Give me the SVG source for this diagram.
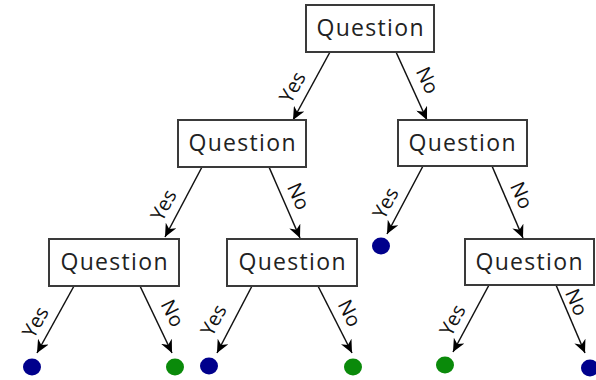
<svg xmlns="http://www.w3.org/2000/svg" width="596" height="380" viewBox="0 0 596 380">
<style>
.box{fill:#fff;stroke:#3a3a3a;stroke-width:2}
.q{font-family:"Open Sans","DejaVu Sans",sans-serif;font-size:23px;fill:#222;text-anchor:middle}
.lbl{font-family:"Open Sans","DejaVu Sans",sans-serif;font-size:20px;fill:#111;text-anchor:middle;dominant-baseline:central}
.edge{stroke:#111;stroke-width:1.5;fill:none;marker-end:url(#ah)}
.blue{fill:#00008c}
.green{fill:#0a8a0a}
</style>
<defs>
<marker id="ah" markerUnits="userSpaceOnUse" markerWidth="14" markerHeight="12" refX="13" refY="6" orient="auto">
<path d="M0,0 L13,6 L0,12 L4,6 Z" fill="#000"/>
</marker>
</defs>
<rect width="596" height="380" fill="#fff"/>
<g id="connectors">
<line class="edge" x1="330" y1="52" x2="293" y2="120"/>
<line class="edge" x1="396" y1="52" x2="427" y2="120"/>
<line class="edge" x1="202" y1="167" x2="165" y2="237"/>
<line class="edge" x1="269" y1="167" x2="300" y2="238"/>
<line class="edge" x1="423" y1="166" x2="387" y2="234"/>
<line class="edge" x1="492" y1="166" x2="523" y2="238"/>
<line class="edge" x1="74" y1="286" x2="37" y2="353"/>
<line class="edge" x1="140" y1="286" x2="172" y2="353"/>
<line class="edge" x1="252" y1="286" x2="217" y2="353"/>
<line class="edge" x1="318" y1="286" x2="352" y2="353"/>
<line class="edge" x1="489" y1="285" x2="453" y2="352"/>
<line class="edge" x1="556" y1="285" x2="585" y2="353"/>
<text class="lbl" transform="translate(292,87) rotate(-61)">Yes</text>
<text class="lbl" transform="translate(428,80) rotate(65)">No</text>
<text class="lbl" transform="translate(163,205) rotate(-62)">Yes</text>
<text class="lbl" transform="translate(299,196) rotate(66)">No</text>
<text class="lbl" transform="translate(385,203) rotate(-62)">Yes</text>
<text class="lbl" transform="translate(522,195) rotate(66)">No</text>
<text class="lbl" transform="translate(35,322) rotate(-61)">Yes</text>
<text class="lbl" transform="translate(173,313) rotate(64)">No</text>
<text class="lbl" transform="translate(213,320) rotate(-62)">Yes</text>
<text class="lbl" transform="translate(350,313) rotate(63)">No</text>
<text class="lbl" transform="translate(452,320) rotate(-62)">Yes</text>
<text class="lbl" transform="translate(577,302) rotate(67)">No</text>
</g>
<g id="q1"><rect class="box" x="306" y="5" width="128" height="47"/><text class="q" x="370" y="36" textLength="107">Question</text></g>
<g id="q2"><rect class="box" x="178" y="120" width="128" height="47"/><text class="q" x="242" y="151" textLength="107">Question</text></g>
<g id="q3"><rect class="box" x="398" y="120" width="129" height="46"/><text class="q" x="462" y="151" textLength="107">Question</text></g>
<g id="q4"><rect class="box" x="49" y="239" width="130" height="47"/><text class="q" x="114" y="270" textLength="107">Question</text></g>
<g id="q5"><rect class="box" x="227" y="239" width="130" height="47"/><text class="q" x="292" y="270" textLength="107">Question</text></g>
<g id="q6"><rect class="box" x="465" y="239" width="129" height="46"/><text class="q" x="529" y="270" textLength="107">Question</text></g>
<g id="leaf1"><ellipse class="blue" cx="381" cy="246" rx="9" ry="8.5"/></g>
<g id="leaf2"><ellipse class="blue" cx="32" cy="367" rx="9" ry="8.5"/></g>
<g id="leaf3"><ellipse class="green" cx="175" cy="367" rx="9" ry="8.5"/></g>
<g id="leaf4"><ellipse class="blue" cx="209" cy="366" rx="9" ry="8.5"/></g>
<g id="leaf5"><ellipse class="green" cx="353" cy="367" rx="9" ry="8.5"/></g>
<g id="leaf6"><ellipse class="green" cx="445" cy="365" rx="9" ry="8.5"/></g>
<g id="leaf7"><ellipse class="blue" cx="590" cy="368" rx="9" ry="8.5"/></g>
</svg>
